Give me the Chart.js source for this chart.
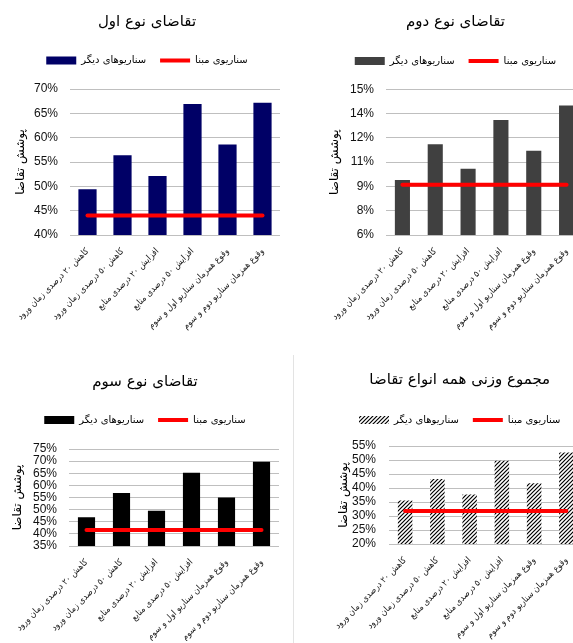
<!DOCTYPE html>
<html>
<head>
<meta charset="utf-8">
<script src="https://cdn.jsdelivr.net/npm/chart.js@4.4.1/dist/chart.umd.min.js"></script>
<style>
  html, body { margin: 0; padding: 0; background: #fff; }
  body { width: 573px; height: 643px; overflow: hidden; position: relative; }
  canvas { position: absolute; display: block; }
  #sep { position: absolute; left: 293px; top: 355px; height: 288px; border-left: 1px solid #e3e3e3; }
</style>
</head>
<body>
<canvas id="c1" width="290" height="345" style="left:0;top:0"></canvas>
<canvas id="c2" width="330" height="345" style="left:290px;top:0"></canvas>
<div id="sep"></div>
<canvas id="c3" width="290" height="288" style="left:0;top:355px"></canvas>
<canvas id="c4" width="330" height="288" style="left:290px;top:355px"></canvas>
<script>
// --- data ---
const categories = [
  "کاهش ۲۰ درصدی زمان ورود",
  "کاهش ۵۰ درصدی زمان ورود",
  "افزایش ۲۰ درصدی منابع",
  "افزایش ۵۰ درصدی منابع",
  "وقوع همزمان سناریو اول و سوم",
  "وقوع همزمان سناریو دوم و سوم"
];
const demand1 = [49.4, 56.4, 52.1, 66.9, 58.6, 67.2];
const demand2 = [9.4, 11.6, 10.1, 13.1, 11.2, 14.0];
const demand3 = [46.9, 56.9, 49.5, 65.2, 55.0, 69.7];
const weighted = [35.5, 43.2, 37.7, 49.7, 41.7, 52.7];
const baseline = [44.0, 9.1, 41.6, 31.8];

const ticks1 = ["40%", "45%", "50%", "55%", "60%", "65%", "70%"];
const ticks2 = ["6%", "8%", "9%", "11%", "12%", "14%", "15%"];
const ticks3 = ["35%", "40%", "45%", "50%", "55%", "60%", "65%", "70%", "75%"];
const ticks4 = ["20%", "25%", "30%", "35%", "40%", "45%", "50%", "55%"];

const FONT = "'Liberation Sans', 'DejaVu Sans', sans-serif";
const FA_FONT = "'DejaVu Sans', sans-serif";
const FA_NARROW = "'DejaVu Sans Condensed', 'DejaVu Sans', sans-serif";

// --- hatch fill for the weighted chart ---
function hatch() {
  const c = document.createElement("canvas");
  c.width = 4; c.height = 4;
  const g = c.getContext("2d");
  g.fillStyle = "#fff";
  g.fillRect(0, 0, 4, 4);
  g.strokeStyle = "#000";
  g.lineWidth = 1.2;
  g.beginPath();
  g.moveTo(0, 4); g.lineTo(4, 0);
  g.moveTo(-1, 1); g.lineTo(1, -1);
  g.moveTo(3, 5); g.lineTo(5, 3);
  g.stroke();
  return g.createPattern(c, "repeat");
}

function makeChart(id, cfg) {
  return new Chart(document.getElementById(id), {
    type: "bar",
    data: {
      labels: categories,
      datasets: [
        {
          label: "سناریوهای دیگر",
          data: cfg.values,
          backgroundColor: cfg.fill,
          borderWidth: 0,
          barPercentage: cfg.barPct,
          categoryPercentage: 1,
          order: 1
        },
        {
          type: "line",
          label: "سناریوی مبنا",
          data: categories.map(() => cfg.base),
          borderColor: "#ff0000",
          backgroundColor: "#ff0000",
          borderWidth: 4,
          borderCapStyle: "round",
          pointRadius: 0,
          order: 0
        }
      ]
    },
    options: {
      responsive: false,
      animation: false,
      devicePixelRatio: 1,
      layout: { padding: { left: cfg.padL, right: cfg.padR, top: 0, bottom: cfg.padB } },
      plugins: {
        title: {
          display: true,
          text: cfg.title,
          color: "#000",
          font: { family: FA_FONT, size: 15, weight: "normal" },
          padding: { top: cfg.titleTop, bottom: cfg.titleBottom }
        },
        // empty subtitle used as a spacer between legend and plot
        subtitle: {
          display: true,
          text: " ",
          weight: 500,
          font: { size: 1 },
          padding: { top: 0, bottom: cfg.gap - 1.2 }
        },
        legend: {
          labels: {
            usePointStyle: true,
            pointStyleWidth: 30,
            boxHeight: 8,
            padding: 14,
            color: "#000",
            font: { family: FA_FONT, size: 10 },
            generateLabels: chart => chart.data.datasets.map((ds, i) => ({
              text: ds.label,
              datasetIndex: i,
              fillStyle: ds.backgroundColor,
              strokeStyle: ds.borderColor,
              lineWidth: ds.type === "line" ? 4 : 0,
              pointStyle: ds.type === "line" ? "line" : "rect",
              fontColor: "#000",
              hidden: false
            }))
          }
        },
        tooltip: { enabled: false }
      },
      scales: {
        x: {
          grid: { display: false },
          border: { display: false },
          ticks: {
            color: "#222",
            font: { family: FA_NARROW, size: 9 },
            autoSkip: false,
            minRotation: 45,
            maxRotation: 45,
            padding: 3
          },
          afterFit: s => { s.height = cfg.xHeight; }
        },
        y: {
          min: cfg.min,
          max: cfg.max,
          ticks: {
            stepSize: cfg.step,
            autoSkip: false,
            padding: cfg.tickPad,
            color: "#111",
            font: { family: FONT, size: 12 },
            callback: (v, i) => cfg.tickLabels[i]
          },
          grid: { color: "#bfbfbf", drawTicks: false },
          border: { display: false },
          title: {
            display: true,
            text: "پوشش تقاضا",
            color: "#000",
            font: { family: FA_FONT, size: 12 },
            padding: 0
          },
          afterFit: s => { s.width = cfg.yWidth; }
        }
      }
    }
  });
}

makeChart("c1", {
  title: "تقاضای نوع اول", values: demand1, base: baseline[0], fill: "#000066", barPct: 0.52,
  min: 40, max: 70, step: 5, tickLabels: ticks1,
  padL: 14, padR: 10, padB: 5, yWidth: 56, xHeight: 105, tickPad: 12,
  titleTop: 13, titleBottom: 10.4, gap: 13.6
});
makeChart("c2", {
  title: "تقاضای نوع دوم", values: demand2, base: baseline[1], fill: "#404040", barPct: 0.46,
  min: 6, max: 15, step: 1.5, tickLabels: ticks2,
  padL: 38, padR: 37, padB: 5, yWidth: 58, xHeight: 105, tickPad: 12,
  titleTop: 13, titleBottom: 11, gap: 13.3
});
makeChart("c3", {
  title: "تقاضای نوع سوم", values: demand3, base: baseline[2], fill: "#000000", barPct: 0.49,
  min: 35, max: 75, step: 5, tickLabels: ticks3,
  padL: 11, padR: 11, padB: 2, yWidth: 58, xHeight: 95, tickPad: 12,
  titleTop: 18, titleBottom: 10, gap: 14
});
makeChart("c4", {
  title: "مجموع وزنی همه انواع تقاضا", values: weighted, base: baseline[3], fill: hatch(), barPct: 0.45,
  min: 20, max: 55, step: 5, tickLabels: ticks4,
  padL: 47, padR: 37.5, padB: 2, yWidth: 52, xHeight: 97, tickPad: 13,
  titleTop: 16, titleBottom: 12, gap: 11
});
</script>
</body>
</html>
